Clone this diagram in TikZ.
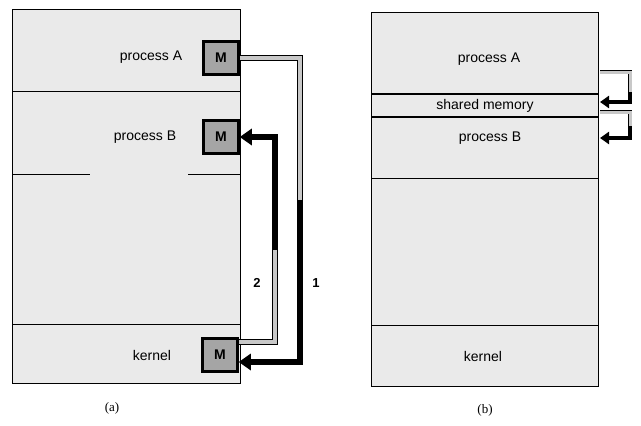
\documentclass[tikz,border=0pt]{standalone}
\usepackage{fontspec}
\setmainfont{Liberation Sans}
\newfontfamily\capfont{Liberation Serif}
\usetikzlibrary{arrows.meta, positioning}
\definecolor{stipple}{RGB}{234,234,234}
\definecolor{mgray}{RGB}{165,165,165}
\definecolor{pipegray}{RGB}{200,200,200}

\begin{document}
\begin{tikzpicture}[x=1pt, y=-1pt, >=Stealth]
  \tikzstyle{region} = [draw=black, fill=stipple, line width=0.8pt]
  \tikzstyle{txt} = [font=\fontsize{14}{16}\selectfont]
  \tikzstyle{mbox} = [draw=black, fill=mgray, line width=2.5pt, minimum width=35pt, minimum height=33pt, inner sep=0pt, font=\fontsize{14}{16}\selectfont\bfseries]
  \tikzstyle{hollow} = [draw=black, line width=0.8pt, double=pipegray, double distance=4.4pt]
  \tikzstyle{pipe} = [draw=black, line width=6pt, -{Triangle[length=12pt, width=16pt]}]
  \tikzstyle{thinhollow} = [draw=black, line width=0.6pt, double=pipegray, double distance=3pt]
  \tikzstyle{thinpipe} = [draw=black, line width=4pt, -{Triangle[length=9pt, width=12pt]}]

  \useasboundingbox (0,0) rectangle (641,426);

  % (a) message passing
  \draw[region] (12,9) rectangle (240,383);
  \draw (12,91) -- (240,91);
  \draw (12,174) -- (90,174);
  \draw (188,174) -- (240,174);
  \draw (12,324) -- (240,324);

  \node[txt] (pa) at (151,57) {process A};
  \node[txt] (pb) at (145,137) {process B};
  \node[txt] (ka) at (152,355) {kernel};

  \node[mbox] (mA) at (221,58) {M};
  \node[mbox] (mB) at (221,137) {M};
  \node[mbox] (mK) at (220,355) {M};

  \coordinate (r1) at (300,58);
  \coordinate (s1) at (300,200);
  \coordinate (e1) at (300,362);
  \draw[hollow] (mA.east) -- (r1) -- (s1);
  \draw[pipe] (s1) -- (e1) -- (mK.east |- e1);

  \coordinate (e2) at (275,342);
  \coordinate (s2) at (275,250);
  \coordinate (r2) at (275,137);
  \draw[hollow] (mK.east |- e2) -- (e2) -- (s2);
  \draw[pipe] (s2) -- (r2) -- (mB.east);

  \node[txt, font=\fontsize{13}{15}\selectfont\bfseries] (n2) at (257,283) {2};
  \node[txt, font=\fontsize{13}{15}\selectfont\bfseries] (n1) at (316,283) {1};

  % (b) shared memory
  \draw[region] (371,12) rectangle (598,386);
  \draw[line width=2pt] (371,94) -- (598,94);
  \draw[line width=2pt] (371,117) -- (598,117);
  \draw (371,178) -- (598,178);
  \draw (371,325) -- (598,325);

  \node[txt] (pa2) at (489,59) {process A};
  \node[txt] (shm) at (485,106) {shared memory};
  \node[txt] (pb2) at (490,138) {process B};
  \node[txt] (kb) at (483,356) {kernel};

  \coordinate (u0) at (600,72);
  \coordinate (u1) at (630,72);
  \coordinate (u2) at (630,92);
  \coordinate (u4) at (600,102);
  \draw[thinhollow] (u0) -- (u1) -- (u2);
  \draw[thinpipe] (u2) |- (u4);

  \coordinate (l0) at (600,112);
  \coordinate (l1) at (630,112);
  \coordinate (l2) at (630,126);
  \coordinate (l4) at (600,138);
  \draw[thinhollow] (l0) -- (l1) -- (l2);
  \draw[thinpipe] (l2) |- (l4);

  \node[font=\capfont\fontsize{13}{15}\selectfont] (capa) at (112,408) {(a)};
  \node[font=\capfont\fontsize{13}{15}\selectfont] (capb) at (485,410) {(b)};
\end{tikzpicture}
\end{document}
